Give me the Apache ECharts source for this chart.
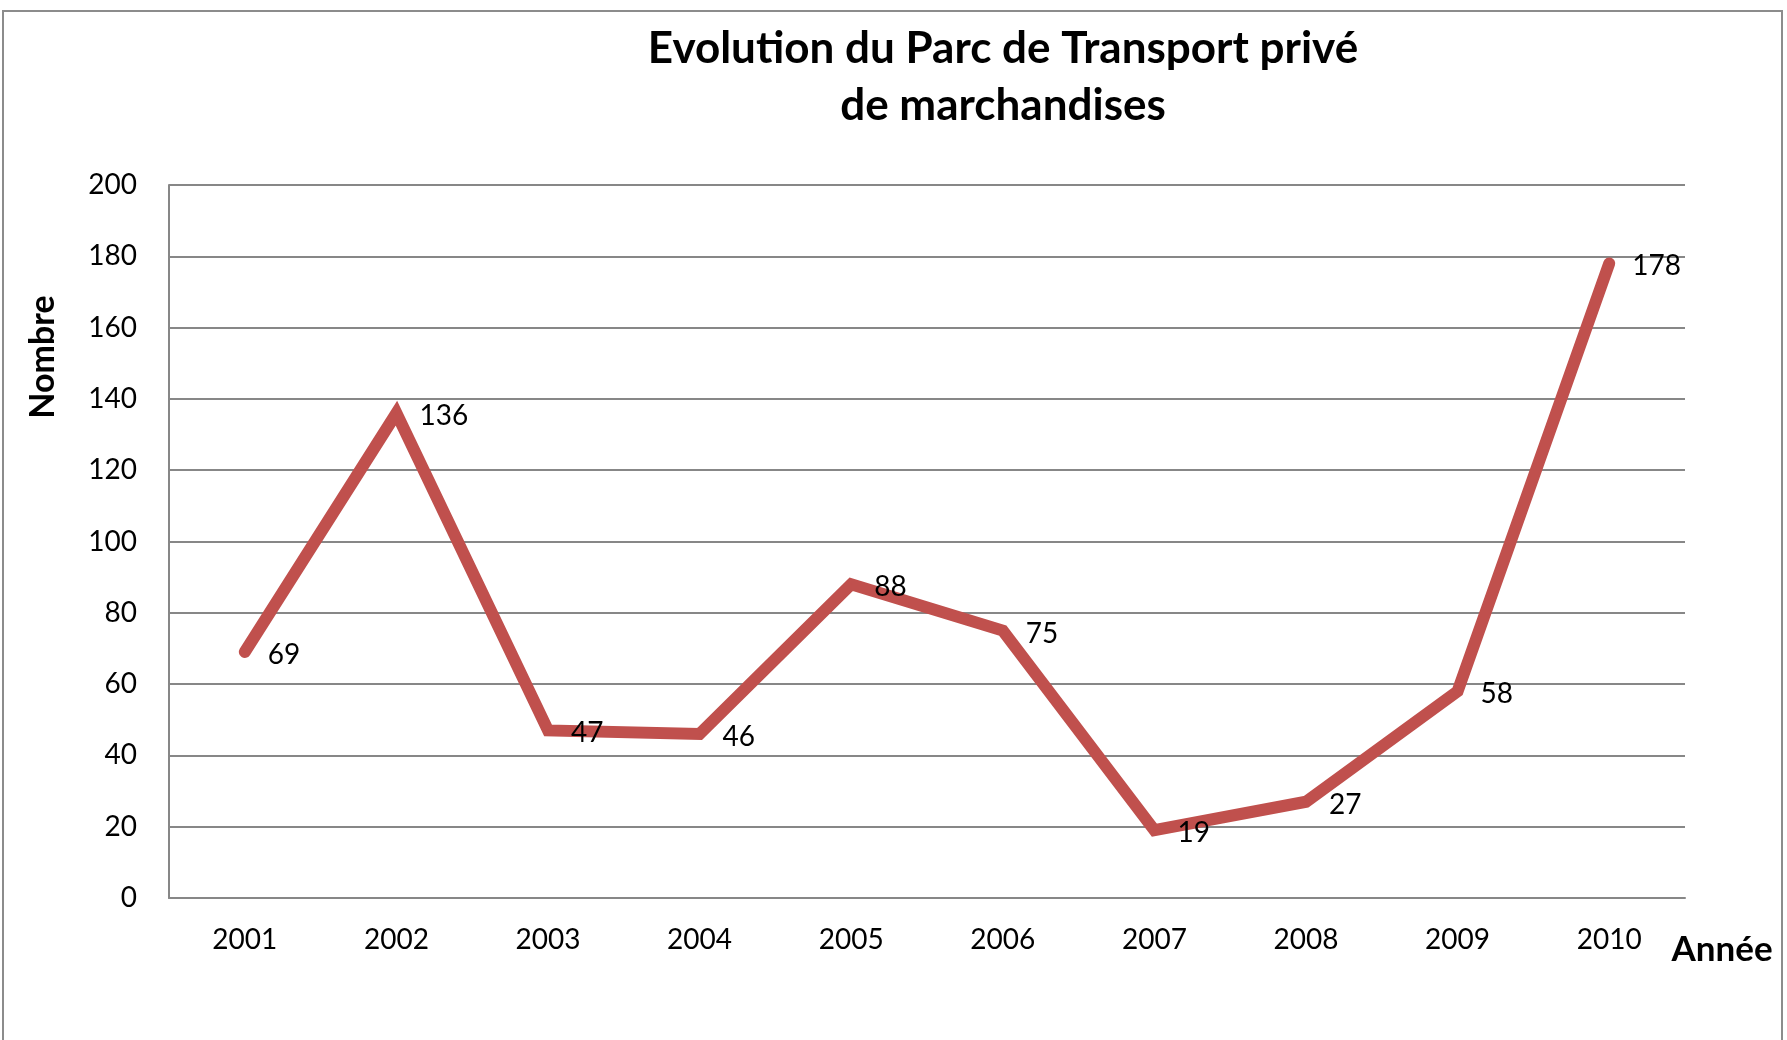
<!DOCTYPE html>
<html>
<head>
<meta charset="utf-8">
<script src="https://cdn.jsdelivr.net/npm/echarts@6/dist/echarts.min.js"></script>
<style>
  html, body { margin: 0; padding: 0; background: #fff; }
  #chart { width: 1787px; height: 1040px; }
</style>
</head>
<body>
<div id="chart"></div>
<script>
const years = ['2001', '2002', '2003', '2004', '2005', '2006', '2007', '2008', '2009', '2010'];
const parcValues = [69, 136, 47, 46, 88, 75, 19, 27, 58, 178];
const yTicks = [0, 20, 40, 60, 80, 100, 120, 140, 160, 180, 200];

const font = 'Lato, "Open Sans", sans-serif';
const gridColor = '#878787';
const lineColor = '#C0504D';

const chart = echarts.init(document.getElementById('chart'));

const option = {
  animation: false,
  backgroundColor: '#fff',
  title: {
    text: 'Evolution du Parc de Transport privé\nde marchandises',
    left: 998,
    top: 15,
    textAlign: 'center',
    textStyle: {
      fontFamily: font,
      fontWeight: 'bold',
      fontSize: 44,
      lineHeight: 57,
      color: '#000'
    }
  },
  graphic: [
    {
      type: 'rect',
      shape: { x: 3, y: 11, width: 1779, height: 1100 },
      style: { fill: 'none', stroke: '#8c8c8c', lineWidth: 2 },
      silent: true
    },
    {
      type: 'text',
      x: 43,
      y: 357,
      rotation: Math.PI / 2,
      style: {
        text: 'Nombre',
        font: 'bold 34px ' + font,
        fill: '#000',
        align: 'center',
        verticalAlign: 'middle'
      }
    },
    {
      type: 'text',
      x: 1722,
      y: 950,
      style: {
        text: 'Année',
        font: 'bold 35px ' + font,
        fill: '#000',
        align: 'center',
        verticalAlign: 'middle'
      }
    }
  ],
  grid: {
    left: 169,
    right: 102,
    top: 185,
    bottom: 142
  },
  xAxis: {
    type: 'category',
    data: years,
    boundaryGap: true,
    axisLine: { show: true, lineStyle: { color: gridColor, width: 2 } },
    axisTick: { show: false },
    axisLabel: {
      margin: 28,
      fontFamily: font,
      fontSize: 28,
      color: '#000'
    },
    splitLine: { show: false }
  },
  yAxis: {
    type: 'value',
    min: yTicks[0],
    max: yTicks[yTicks.length - 1],
    interval: 20,
    axisLine: { show: true, lineStyle: { color: gridColor, width: 2 } },
    axisTick: { show: false },
    axisLabel: {
      margin: 32,
      fontFamily: font,
      fontSize: 28,
      color: '#000'
    },
    splitLine: { show: true, lineStyle: { color: gridColor, width: 2 } }
  },
  series: [{
    name: 'Parc',
    type: 'line',
    data: parcValues,
    symbol: 'circle',
    symbolSize: 2,
    itemStyle: { color: lineColor },
    lineStyle: { color: lineColor, width: 12, cap: 'round', join: 'miter' },
    label: {
      show: true,
      position: 'right',
      distance: 22,
      offset: [0, 3],
      fontFamily: font,
      fontSize: 28,
      color: '#000'
    }
  }]
};

chart.setOption(option);
</script>
</body>
</html>
